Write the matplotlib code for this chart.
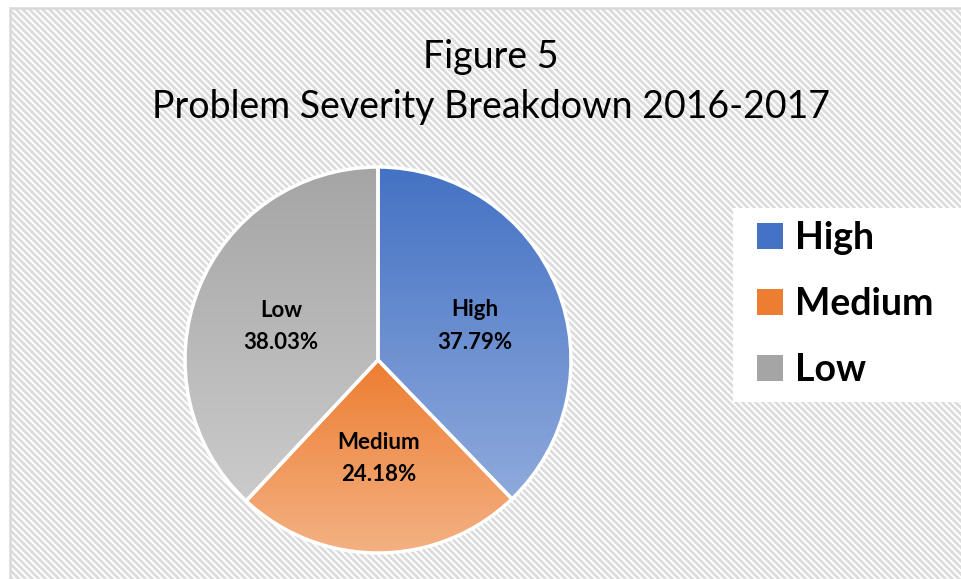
import matplotlib
matplotlib.use("Agg")
import matplotlib.pyplot as plt
import numpy as np
from matplotlib.patches import Rectangle, Patch
from matplotlib.colors import LinearSegmentedColormap

categories = ["High", "Medium", "Low"]
values = [37.79, 24.18, 38.03]
top_colors = ["#4472C4", "#ED7D31", "#A5A5A5"]
bottom_colors = ["#8FAADC", "#F4B183", "#CBCBCB"]
title_lines = ["Figure 5", "Problem Severity Breakdown 2016-2017"]

W, H = 962, 579
plt.rcParams['hatch.linewidth'] = 2.0
fig = plt.figure(figsize=(W / 100, H / 100), dpi=100)
ax = fig.add_axes([0, 0, 1, 1])
ax.set_xlim(0, W)
ax.set_ylim(0, H)
ax.axis('off')

# background: border + diagonal hatch
bg = Rectangle((10, -5), W, H - 8 + 5, facecolor='white', edgecolor='#DCDCDC',
               hatch='\\' * 5, linewidth=0, zorder=0)
ax.add_patch(bg)
border = Rectangle((10, -5), W, H - 8 + 5, facecolor='none', edgecolor='#D9D9D9',
                   linewidth=1.8, zorder=0.5)
ax.add_patch(border)

cx, cy, R = 378, H - 360, 193
wedges, _ = ax.pie(values, startangle=90, counterclock=False, center=(cx, cy),
                   radius=R, frame=True,
                   wedgeprops=dict(edgecolor='white', linewidth=2.5))
ax.set_xlim(0, W)
ax.set_ylim(0, H)
ax.set_aspect('equal')
ax.axis('off')

for w, c1, c2 in zip(wedges, top_colors, bottom_colors):
    path = w.get_path()
    verts = w.get_transform().transform(path.vertices)
    dv = ax.transData.inverted().transform(verts)
    ymin, ymax = dv[:, 1].min(), dv[:, 1].max()
    xmin, xmax = dv[:, 0].min(), dv[:, 0].max()
    cmap = LinearSegmentedColormap.from_list("g", [c2, c1])
    grad = np.linspace(0, 1, 256).reshape(-1, 1)
    im = ax.imshow(grad, cmap=cmap, extent=(xmin, xmax, ymin, ymax),
                   origin='lower', aspect='auto', zorder=1.5)
    im.set_clip_path(w)
    w.set_zorder(2)
    w.set_facecolor('none')

ax.set_xlim(0, W)
ax.set_ylim(0, H)

label_dist = [0.54, 0.50, 0.54]
label_dy = [-5, -2, -5]
for w, cat, v, d, dy in zip(wedges, categories, values, label_dist, label_dy):
    ang = np.deg2rad((w.theta1 + w.theta2) / 2)
    x = cx + d * R * np.cos(ang)
    y = cy + d * R * np.sin(ang) + dy
    ax.text(x, y, f"{cat}\n{v:.2f}%", ha='center', va='center',
            fontsize=16, fontweight='bold', family='Lato', linespacing=1.65,
            color='black', zorder=3)

ax.text(491, H - 57, title_lines[0], ha='center', va='center',
        fontsize=27, family='Lato', color='black')
ax.text(491, H - 107, title_lines[1], ha='center', va='center',
        fontsize=27, family='Lato', color='black')

# legend box and legend
ax.add_patch(Rectangle((733, H - 402), W - 733 + 5, 402 - 208,
                       facecolor='white', edgecolor='none', zorder=2.5))
handles = [Patch(facecolor=c, edgecolor='none') for c in top_colors]
leg = fig.legend(handles, categories, loc='upper left',
                 bbox_to_anchor=(757 / W, 1 - 221 / H),
                 frameon=False, borderaxespad=0, borderpad=0,
                 prop=dict(family='Lato', weight='bold', size=27),
                 handlelength=0.7, handleheight=0.7, handletextpad=0.32,
                 labelspacing=0.86)

fig.savefig("out.png", dpi=100)
